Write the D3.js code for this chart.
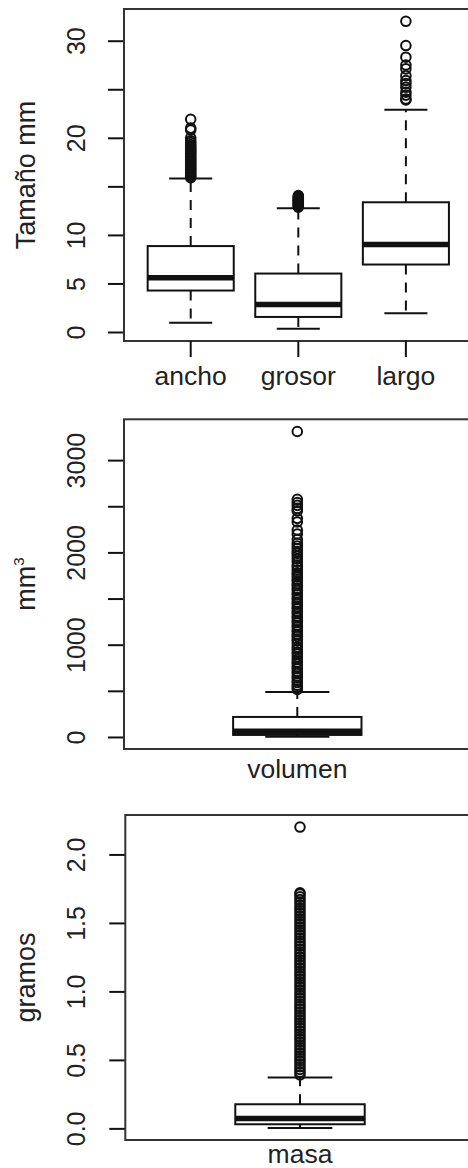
<!DOCTYPE html>
<html>
<head>
<meta charset="utf-8">
<script src="https://cdn.jsdelivr.net/npm/d3@7"></script>
<style>
  body { margin: 0; background: #fff; }
  text { font-family: "Liberation Sans", Arial, sans-serif; fill: #222; }
</style>
</head>
<body>
<script>
// Box stats: [lower whisker, Q1, median, Q3, upper whisker]
var sizeNames = ["ancho", "grosor", "largo"];
var anchoStats = [0.96, 4.27, 5.6, 8.85, 15.8];
var grosorStats = [0.34, 1.55, 2.82, 6.02, 12.74];
var largoStats = [1.93, 6.95, 9.02, 13.36, 22.9];

var anchoOut = [15.9, 16.0, 16.15, 16.3, 16.45, 16.6, 16.75, 16.9, 17.05, 17.2, 17.35, 17.5,
    17.65, 17.8, 17.95, 18.1, 18.25, 18.4, 18.55, 18.7, 18.85, 19.0, 19.15, 19.3, 19.5, 19.7,
    20.0, 20.8, 21.0, 21.9];
var grosorOut = [12.85, 12.95, 13.05, 13.15, 13.25, 13.35, 13.45, 13.55, 13.65, 13.75, 13.85, 13.95, 14.05];
var largoOut = [23.9, 24.0, 24.4, 24.7, 25.2, 25.6, 25.9, 26.4, 27.1, 27.5, 28.3, 29.5, 32.0];

var volumenStats = [2, 22, 62, 217, 488];
var volumenOut = [515, 540, 560, 590, 610, 640, 660, 690, 710, 740, 760, 790, 810, 840, 868, 900,
    920, 950, 976, 1010, 1040, 1060, 1090, 1110, 1140, 1160, 1190, 1210, 1240, 1260, 1290, 1310,
    1340, 1360, 1390, 1410, 1440, 1460, 1490, 1510, 1540, 1560, 1590, 1610, 1640, 1660, 1690,
    1710, 1735, 1760, 1780, 1810, 1840, 1862, 1900, 1930, 1960, 1989, 2010, 2040, 2070, 2098,
    2140, 2200, 2242, 2330, 2369, 2450, 2477, 2510, 2540, 2575, 3310];

var masaStats = [0.003, 0.03, 0.072, 0.176, 0.372];
var masaOut = [0.39, 0.41, 0.43, 0.45, 0.47, 0.49, 0.51, 0.53, 0.55, 0.57, 0.59, 0.61, 0.63, 0.65,
    0.67, 0.69, 0.71, 0.73, 0.75, 0.77, 0.79, 0.81, 0.83, 0.85, 0.87, 0.89, 0.91, 0.93, 0.95, 0.97,
    0.99, 1.01, 1.03, 1.05, 1.07, 1.09, 1.11, 1.13, 1.15, 1.17, 1.19, 1.21, 1.23, 1.25, 1.27, 1.29,
    1.31, 1.33, 1.35, 1.37, 1.39, 1.41, 1.43, 1.45, 1.47, 1.49, 1.51, 1.53, 1.55, 1.57, 1.59, 1.61,
    1.63, 1.65, 1.67, 1.69, 1.71, 1.72, 2.2];

// Axis ticks and labels (R drops labels that would overlap)
var sizeTicks = [0, 5, 10, 15, 20, 25, 30];
var sizeTickLabels = ["0", "5", "10", "", "20", "", "30"];
var volTicks = [0, 500, 1000, 1500, 2000, 2500, 3000];
var volTickLabels = ["0", "", "1000", "", "2000", "", "3000"];
var masaTicks = [0, 0.5, 1, 1.5, 2];
var masaTickLabels = ["0.0", "0.5", "1.0", "1.5", "2.0"];

var svg = d3.select("body")
    .append("svg")
        .attr("width", 468)
        .attr("height", 1168);

var ink = "#111";

function drawPanel(p) {
    var n = p.names.length;
    var g = svg.append("g");

    // R style x range: 0.5 .. n+0.5 extended by 4%
    var x = d3.scaleLinear()
        .domain([0.5 - 0.04 * n, n + 0.5 + 0.04 * n])
        .range([p.left, p.right]);

    var allVals = [];
    p.stats.forEach(function(s, i) { allVals = allVals.concat(s, p.outliers[i]); });
    var ext = d3.extent(allVals), pad = (ext[1] - ext[0]) * 0.04;
    var y = d3.scaleLinear()
        .domain([ext[0] - pad, ext[1] + pad])
        .range([p.bottom, p.top]);

    var unit = x(2) - x(1);
    var bw = p.boxWidth * unit;

    // Y axis
    var yAxis = d3.axisLeft(y)
        .tickValues(p.ticks)
        .tickSize(16)
        .tickFormat(function(d, i) { return p.tickLabels[i]; });

    var ya = g.append("g")
        .attr("transform", "translate(" + p.left + ",0)")
        .call(yAxis);
    ya.select(".domain").remove();
    ya.selectAll(".tick line").attr("stroke", ink).attr("stroke-width", 2);
    ya.selectAll(".tick text")
        .attr("x", 0)
        .attr("y", -(p.left - 85))
        .attr("dy", null)
        .attr("transform", "rotate(-90)")
        .attr("text-anchor", "middle")
        .style("font-size", "25px")
        .attr("fill", "#222");

    // whiskers (dashed)
    p.stats.forEach(function(s, i) {
        var cx = x(i + 1);
        g.append("line")
            .attr("x1", cx).attr("x2", cx)
            .attr("y1", y(s[3])).attr("y2", y(s[4]))
            .attr("stroke", ink).attr("stroke-width", 2)
            .attr("stroke-dasharray", "10,8");
        g.append("line")
            .attr("x1", cx).attr("x2", cx)
            .attr("y1", y(s[1])).attr("y2", y(s[0]))
            .attr("stroke", ink).attr("stroke-width", 2)
            .attr("stroke-dasharray", "10,8");

        // staples
        [s[0], s[4]].forEach(function(v) {
            g.append("line")
                .attr("x1", cx - bw / 4).attr("x2", cx + bw / 4)
                .attr("y1", y(v)).attr("y2", y(v))
                .attr("stroke", ink).attr("stroke-width", 2);
        });

        // box
        g.append("rect")
            .attr("x", cx - bw / 2)
            .attr("y", y(s[3]))
            .attr("width", bw)
            .attr("height", y(s[1]) - y(s[3]))
            .attr("fill", "none")
            .attr("stroke", ink).attr("stroke-width", 2);

        // median
        g.append("line")
            .attr("x1", cx - bw / 2).attr("x2", cx + bw / 2)
            .attr("y1", y(s[2])).attr("y2", y(s[2]))
            .attr("stroke", ink).attr("stroke-width", 5.5);

        // outliers
        g.selectAll(null)
            .data(p.outliers[i])
            .enter().append("circle")
            .attr("cx", cx)
            .attr("cy", function(d) { return y(d); })
            .attr("r", 4.8)
            .attr("fill", "none")
            .attr("stroke", ink)
            .attr("stroke-width", 2);
    });

    // plot frame
    g.append("rect")
        .attr("x", p.left).attr("y", p.top)
        .attr("width", p.right - p.left)
        .attr("height", p.bottom - p.top)
        .attr("fill", "none")
        .attr("stroke", "#333").attr("stroke-width", 2);

    // x labels
    p.names.forEach(function(name, i) {
        if (n > 1) {
            g.append("line")
                .attr("x1", x(i + 1)).attr("x2", x(i + 1))
                .attr("y1", p.bottom).attr("y2", p.bottom + 16)
                .attr("stroke", ink).attr("stroke-width", 2);
        }
        g.append("text")
            .attr("x", x(i + 1))
            .attr("y", p.labelY)
            .attr("text-anchor", "middle")
            .style("font-size", "26.5px")
            .text(name);
    });

    // y title
    var t = g.append("text")
        .attr("transform", "translate(35," + ((p.top + p.bottom) / 2) + ") rotate(-90)")
        .attr("text-anchor", "middle")
        .style("font-size", "27px");
    t.append("tspan").text(p.title);
    if (p.sup) {
        t.append("tspan")
            .attr("dy", "-0.75em")
            .style("font-size", "15px")
            .text(p.sup);
    }
}

drawPanel({
    names: sizeNames,
    stats: [anchoStats, grosorStats, largoStats],
    outliers: [anchoOut, grosorOut, largoOut],
    ticks: sizeTicks, tickLabels: sizeTickLabels,
    title: "Tamaño mm",
    left: 124, right: 472.6, top: 9, bottom: 341,
    boxWidth: 0.8, labelY: 385
});

drawPanel({
    names: ["volumen"],
    stats: [volumenStats],
    outliers: [volumenOut],
    ticks: volTicks, tickLabels: volTickLabels,
    title: "mm", sup: "3",
    left: 124, right: 470.6, top: 419.3, bottom: 749,
    boxWidth: 0.4, labelY: 778
});

drawPanel({
    names: ["masa"],
    stats: [masaStats],
    outliers: [masaOut],
    ticks: masaTicks, tickLabels: masaTickLabels,
    title: "gramos",
    left: 125.3, right: 474.7, top: 815, bottom: 1140,
    boxWidth: 0.4, labelY: 1163
});
</script>
</body>
</html>
